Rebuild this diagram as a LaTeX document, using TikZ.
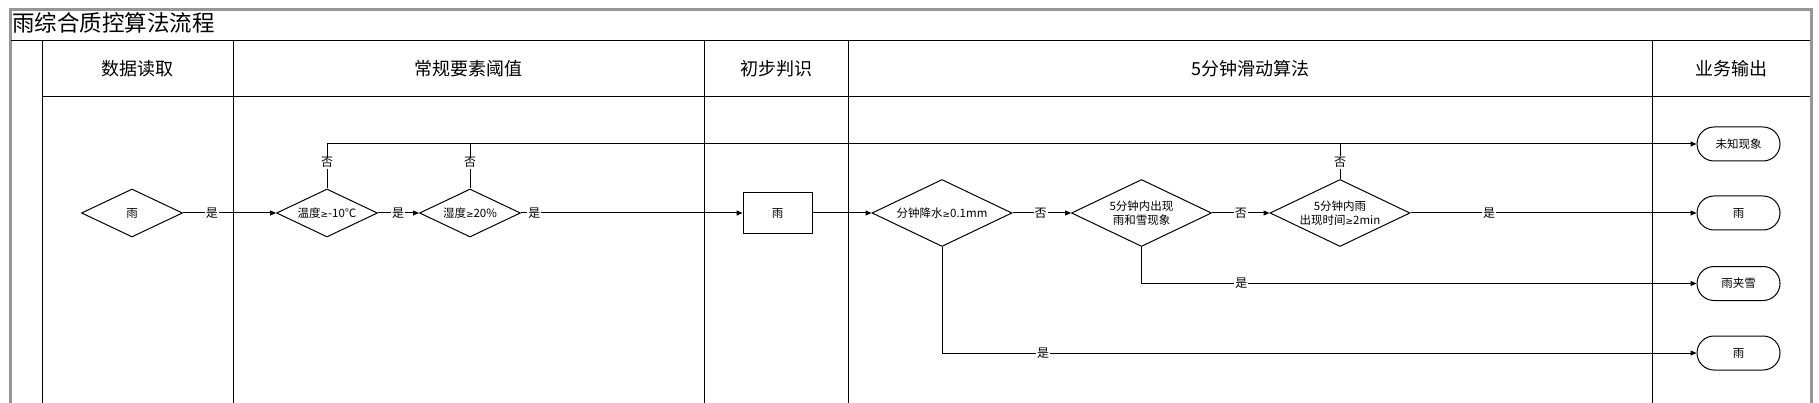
\documentclass[tikz,border=0pt]{standalone}
\usepackage{fontspec}
\setmainfont{Noto Sans CJK SC}
\newfontfamily\symfont{DejaVu Sans}
\newcommand{\gte}{{\symfont\fontsize{9}{9}\selectfont ≥}}
\usetikzlibrary{shapes.geometric,shapes.misc,arrows.meta}
\definecolor{framegray}{RGB}{150,150,150}
\tikzset{
  dec/.style={diamond, draw, line width=1pt, inner sep=0pt, shape aspect=2.1, align=center, font=\fontsize{11.5}{14}\selectfont},
  smalldec/.style={dec, minimum width=101pt, minimum height=48pt},
  bigdec/.style={dec, minimum width=140pt, minimum height=67pt},
  procbox/.style={rectangle, draw, line width=1pt, minimum width=69pt, minimum height=41pt, inner sep=0pt, font=\fontsize{11.5}{14}\selectfont},
  term/.style={rounded rectangle, draw, line width=1pt, minimum width=83pt, minimum height=34pt, inner sep=0pt, font=\fontsize{11.5}{14}\selectfont},
  conn/.style={line width=1pt},
  arr/.style={conn, -{Triangle[length=6pt,width=5pt]}},
  lbl/.style={fill=white, inner sep=1pt, font=\fontsize{12}{12}\selectfont},
  lane/.style={line width=1pt},
  headtxt/.style={font=\fontsize{18}{18}\selectfont},
}
\begin{document}
\begin{tikzpicture}[x=1pt,y=-1pt]
\useasboundingbox (0,0) rectangle (1819,403);
% frame
\draw[framegray, line width=3pt] (10.5,403) -- (10.5,9.5) -- (1811,9.5) -- (1811,403);
\node[anchor=west, font=\fontsize{22.5}{22.5}\selectfont, inner sep=0pt] (title) at (12,23) {雨综合质控算法流程};
% table lines
\draw[lane] (11,41) -- (1810,41);
\draw[lane] (42,97) -- (1810,97);
\foreach \x in {42,233,704,848,1652} \draw[lane] (\x,41) -- (\x,403);
% headers
\node[headtxt] (h1) at (137.5,69) {数据读取};
\node[headtxt] (h2) at (468.5,69) {常规要素阈值};
\node[headtxt] (h3) at (776,69) {初步判识};
\node[headtxt] (h4) at (1250,69) {5分钟滑动算法};
\node[headtxt] (h5) at (1731.5,69) {业务输出};
% nodes
\node[smalldec] (d1) at (132,213) {雨};
\node[smalldec] (d2) at (327,213) {温度\gte-10℃};
\node[smalldec] (d3) at (470,213) {湿度\gte20\%};
\node[procbox] (b1) at (777.5,213) {雨};
\node[bigdec] (d4) at (942,213) {分钟降水\gte0.1mm};
\node[bigdec] (d5) at (1141.5,213) {5分钟内出现\\雨和雪现象};
\node[bigdec] (d6) at (1340,213) {5分钟内雨\\出现时间\gte2min};
\node[term] (o1) at (1738.5,144) {未知现象};
\node[term] (o2) at (1738.5,213) {雨};
\node[term] (o3) at (1738.5,283.5) {雨夹雪};
\node[term] (o4) at (1738.5,353) {雨};
% connectors
\draw[arr] (d1) -- node[lbl,pos=0.31]{是} (d2);
\draw[arr] (d2) -- node[lbl,pos=0.49]{是} (d3);
\draw[arr] (d3) -- node[lbl,pos=0.06]{是} (b1);
\draw[arr] (b1) -- (d4);
\draw[arr] (d4) -- node[lbl,pos=0.48]{否} (d5);
\draw[arr] (d5) -- node[lbl,pos=0.5]{否} (d6);
\draw[arr] (d6) -- node[lbl,pos=0.275]{是} (o2);
\draw[arr] (d2.north) |- node[lbl,pos=0.29]{否} (o1.west);
\draw[conn] (d3.north) -- node[lbl,pos=0.58]{否} (d3.north |- o1.west);
\draw[conn] (d6.north) -- node[lbl,pos=0.47]{否} (d6.north |- o1.west);
\draw[arr] (d5.south) |- node[lbl,pos=0.59]{是} (o3.west);
\draw[arr] (d4.south) |- node[lbl,pos=0.567]{是} (o4.west);
\end{tikzpicture}
\end{document}
